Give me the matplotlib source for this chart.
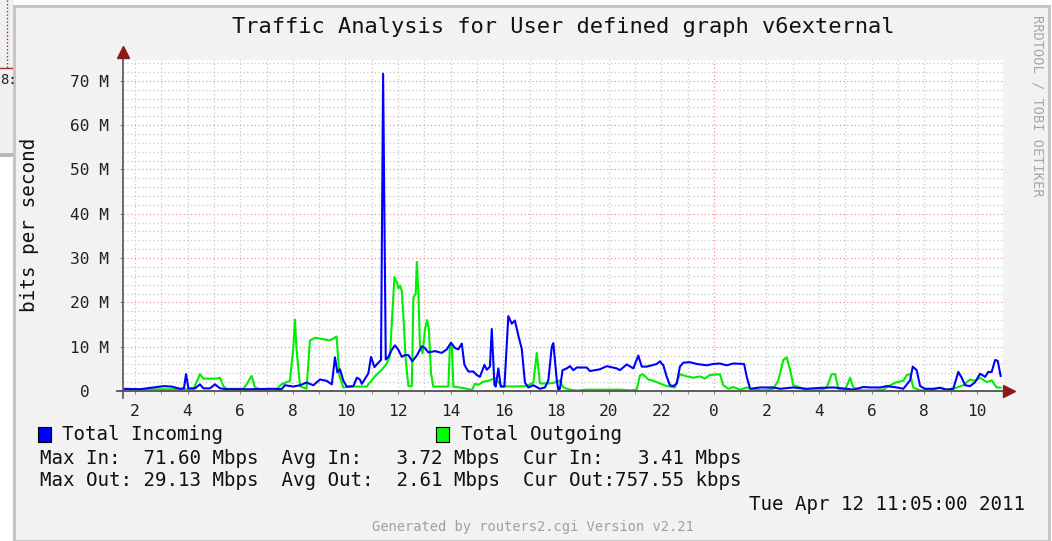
import numpy as np
import matplotlib
matplotlib.use("Agg")
import matplotlib.pyplot as plt
from matplotlib.patches import Rectangle
from matplotlib.lines import Line2D

plt.rcParams['font.family'] = ['DejaVu Sans Mono']

# hours since Apr 11 00:00, values in Mbps
in_hours = [1.56, 2.19, 3.08, 3.39, 3.71, 3.86, 3.94, 4.03, 4.28, 4.47, 4.60, 4.85, 5.04, 5.23, 5.48,
            6.37, 7.26, 7.57, 7.70, 8.02, 8.27, 8.52, 8.78, 9.03, 9.28, 9.48, 9.60, 9.69, 9.79, 9.92,
            10.05, 10.30, 10.43, 10.55, 10.62, 10.87, 10.97, 11.10, 11.22, 11.35, 11.43, 11.53, 11.63,
            11.76, 11.88, 12.01, 12.14, 12.26, 12.39, 12.54, 12.71, 12.90, 13.02, 13.15, 13.40, 13.66,
            13.85, 14.01, 14.16, 14.29, 14.42, 14.52, 14.67, 14.86, 14.99, 15.11, 15.28, 15.37, 15.49,
            15.56, 15.66, 15.71, 15.81, 15.90, 16.04, 16.19, 16.32, 16.44, 16.57, 16.70, 16.82, 16.95,
            17.14, 17.39, 17.58, 17.71, 17.84, 17.90, 18.03, 18.09, 18.15, 18.25, 18.41, 18.53, 18.66,
            18.79, 19.17, 19.29, 19.67, 19.93, 20.31, 20.43, 20.69, 20.94, 21.13, 21.26, 21.45, 21.83,
            21.95, 22.08, 22.21, 22.33, 22.46, 22.59, 22.71, 22.84, 23.09, 23.35, 23.73, 23.98, 24.23,
            24.49, 24.74, 25.15, 25.25, 25.38, 25.76, 26.26, 26.52, 27.02, 27.53, 28.04, 28.54, 29.05,
            29.30, 29.68, 29.94, 30.32, 30.57, 30.95, 31.20, 31.46, 31.56, 31.71, 31.84, 32.03, 32.34,
            32.60, 32.85, 33.10, 33.29, 33.42, 33.55, 33.74, 33.93, 34.12, 34.31, 34.43, 34.56, 34.69,
            34.79, 34.90]
in_mbps = [0.5, 0.4, 1.1, 1.0, 0.5, 0.6, 3.8, 0.6, 0.6, 1.5, 0.6, 0.6, 1.5, 0.6, 0.4,
           0.4, 0.5, 0.4, 1.3, 1.0, 1.3, 1.9, 1.3, 2.6, 2.3, 1.5, 7.6, 4.2, 4.9, 2.3,
           1.0, 1.1, 3.0, 2.6, 1.6, 4.0, 7.7, 5.4, 6.2, 7.0, 71.6, 7.1, 7.7,
           9.3, 10.3, 9.3, 7.7, 8.1, 8.1, 6.7, 8.0, 10.1, 9.7, 8.7, 9.0, 8.6,
           9.4, 10.9, 9.7, 9.4, 10.7, 5.9, 4.4, 4.4, 3.6, 3.2, 5.9, 4.8, 5.5,
           14.0, 1.4, 1.0, 5.1, 1.0, 1.0, 16.9, 15.2, 15.9, 12.5, 9.5, 1.9, 0.8,
           1.3, 0.5, 0.8, 2.4, 10.0, 10.8, 2.4, 0.3, 0.5, 4.7, 5.1, 5.6, 4.7,
           5.3, 5.3, 4.5, 4.9, 5.6, 5.1, 4.7, 6.0, 5.1, 8.0, 5.5, 5.5, 6.1,
           6.7, 5.8, 3.2, 1.3, 1.1, 1.7, 5.5, 6.4, 6.5, 6.1, 5.8, 6.1, 6.2,
           5.8, 6.2, 6.1, 3.2, 0.5, 0.8, 0.8, 0.5, 0.8, 0.5, 0.7, 0.8, 0.5,
           0.3, 0.9, 0.8, 0.8, 1.1, 0.8, 0.5, 2.4, 5.5, 4.7, 1.1, 0.5, 0.5,
           0.7, 0.3, 0.5, 4.3, 3.0, 1.3, 1.1, 2.0, 3.9, 3.2, 4.3, 4.3, 7.0,
           6.8, 3.41]

out_hours = [1.56, 4.22, 4.34, 4.47, 4.60, 5.10, 5.23, 5.36, 5.48, 6.12, 6.24, 6.43, 6.56, 6.75,
             7.38, 7.57, 7.89, 8.02, 8.08, 8.14, 8.27, 8.52, 8.65, 8.84, 9.16, 9.41, 9.66, 9.77,
             9.92, 10.30, 10.80, 11.12, 11.38, 11.57, 11.69, 11.76, 11.86, 11.95, 12.01, 12.07,
             12.14, 12.20, 12.29, 12.39, 12.52, 12.58, 12.67, 12.71, 12.77, 12.83, 12.93, 13.02,
             13.10, 13.17, 13.25, 13.34, 13.91, 13.97, 14.04, 14.10, 14.54, 14.80, 14.92, 15.05,
             15.24, 15.43, 15.68, 15.94, 16.32, 16.89, 17.14, 17.27, 17.39, 17.65, 17.90, 18.13,
             18.28, 18.53, 18.79, 19.17, 19.55, 19.93, 20.43, 20.81, 21.07, 21.19, 21.30, 21.51,
             21.70, 21.95, 22.21, 22.52, 22.71, 22.97, 23.22, 23.47, 23.66, 23.85, 24.23, 24.36,
             24.55, 24.74, 25.00, 25.25, 25.50, 25.88, 26.26, 26.45, 26.64, 26.77, 26.90, 27.02,
             27.28, 27.53, 28.04, 28.29, 28.48, 28.61, 28.73, 28.99, 29.18, 29.30, 29.56, 30.06,
             30.44, 30.70, 30.95, 31.20, 31.33, 31.46, 31.58, 31.84, 32.22, 32.60, 32.85, 33.10,
             33.48, 33.74, 33.93, 34.12, 34.37, 34.56, 34.75, 34.90]
out_mbps = [0.4, 0.4, 2.0, 3.8, 2.8, 2.8, 3.0, 1.1, 0.5, 0.5, 1.5, 3.4, 0.8, 0.4,
            0.4, 1.5, 2.3, 10.0, 16.1, 9.5, 1.1, 0.5, 11.4, 12.0, 11.7, 11.4, 12.3, 3.4,
            0.8, 1.0, 1.0, 3.3, 4.8, 6.2, 7.9, 15.4, 25.7, 24.6, 23.2, 23.8,
            22.6, 16.9, 7.0, 1.1, 1.1, 21.1, 22.0, 29.13, 22.2, 10.1, 8.5, 13.9,
            16.0, 13.9, 4.0, 1.0, 1.0, 10.5, 10.5, 1.0, 0.6, 0.2, 1.6, 1.4,
            2.1, 2.3, 2.9, 1.1, 1.0, 1.1, 1.9, 8.6, 1.7, 1.7, 1.8, 2.4,
            0.8, 0.3, 0.1, 0.3, 0.3, 0.3, 0.3, 0.15, 0.3, 3.5, 3.8, 2.6,
            2.3, 1.7, 1.1, 0.8, 3.8, 3.3, 3.0, 3.3, 2.8, 3.6, 3.8, 1.3,
            0.5, 0.9, 0.3, 0.8, 0.3, 0.15, 0.5, 2.4, 7.0, 7.6, 4.7, 1.3,
            0.8, 0.15, 0.15, 0.8, 3.8, 3.8, 0.5, 0.3, 3.0, 0.8, 0.15, 0.15,
            0.3, 1.3, 2.0, 2.3, 3.6, 3.8, 0.8, 0.15, 0.15, 0.8, 0.3, 0.5,
            1.3, 2.6, 2.3, 3.0, 2.0, 2.4, 0.8, 0.76]

x_ticks = list(range(2, 35, 2))
x_labels = [str(h % 24) for h in x_ticks]
y_ticks = [0, 10, 20, 30, 40, 50, 60, 70]
y_labels = ['0  ', '10 M', '20 M', '30 M', '40 M', '50 M', '60 M', '70 M']

stats_in = "Max In:  71.60 Mbps  Avg In:   3.72 Mbps  Cur In:   3.41 Mbps"
stats_out = "Max Out: 29.13 Mbps  Avg Out:  2.61 Mbps  Cur Out:757.55 kbps"

W, H = 1052, 541


def fx(px):
    return px / W


def fy(py):
    return 1 - py / H


fig = plt.figure(figsize=(W / 100, H / 100), dpi=100, facecolor='white')

# screenshot background bits + graph panel (kept behind the axes)
fig.add_artist(Rectangle((0, fy(155)), fx(14), 1 - fy(155), transform=fig.transFigure,
                         facecolor='#f0f0f0', edgecolor='none', zorder=-10))
fig.add_artist(Rectangle((0, fy(157)), fx(14), fy(153) - fy(157), transform=fig.transFigure,
                         facecolor='#b8b8b8', edgecolor='none', zorder=-10))
fig.add_artist(Line2D([fx(7), fx(7)], [1, fy(68)], transform=fig.transFigure, color='#a03030',
                      lw=1.0, ls=(0, (1, 1.5)), zorder=-10))
fig.add_artist(Line2D([0, fx(14)], [fy(68), fy(68)], transform=fig.transFigure, color='#a03030',
                      lw=1.0, zorder=-10))
fig.add_artist(Rectangle((fx(14), 0), fx(1049) - fx(14), fy(6), transform=fig.transFigure,
                         facecolor='#f2f2f2', edgecolor='#c6c6c6', linewidth=2.2, zorder=-9))
fig.text(0, fy(80), '8:', fontsize=10, va='center', ha='left', color='#222222')

ax = fig.add_axes([fx(123), fy(391), fx(1003) - fx(123), fy(60) - fy(391)])
ax.set_facecolor('white')
ax.set_xlim(1.544, 34.99)
ax.set_ylim(0, 74.7)
for s in ax.spines.values():
    s.set_visible(False)

# grid
for v in np.arange(2, 75, 2):
    if v % 10 == 0:
        ax.axhline(v, color='#f09090', lw=0.9, ls=(0, (1, 2)), zorder=1)
    else:
        ax.axhline(v, color='#c8c8c8', lw=0.9, ls=(0, (1, 2)), zorder=1)
for h in range(2, 35):
    if h == 24:
        ax.axvline(h, color='#f09090', lw=0.9, ls=(0, (1, 2)), zorder=1)
    else:
        ax.axvline(h, color='#c8c8c8', lw=0.9, ls=(0, (1, 2)), zorder=1)

ax.plot(out_hours, out_mbps, color='#00ee00', lw=1.5, zorder=3)
ax.plot(in_hours, in_mbps, color='#0000ff', lw=1.5, zorder=4)

# axes with arrows
ax.plot([0, 0], [-0.02, 1.02], transform=ax.transAxes, color='#606060', lw=1.3, clip_on=False, zorder=5)
ax.plot([-0.007, 1.004], [0, 0], transform=ax.transAxes, color='#505050', lw=1.3, clip_on=False, zorder=5)
ax.plot([0], [1.025], transform=ax.transAxes, marker='^', ms=8, color='#8b1a1a', clip_on=False, zorder=6)
ax.plot([1.007], [0], transform=ax.transAxes, marker='>', ms=8, color='#8b1a1a', clip_on=False, zorder=6)

ax.set_xticks(x_ticks)
ax.set_xticklabels(x_labels)
ax.set_xticks(range(2, 35), minor=True)
ax.set_yticks(y_ticks)
ax.set_yticklabels(y_labels)
ax.tick_params(axis='both', which='both', length=2, color='#808080', labelsize=11.7,
               labelcolor='#222222')
ax.tick_params(axis='x', pad=7)
ax.tick_params(axis='y', pad=8)

fig.text(fx(30), fy(225), 'bits per second', rotation=90, ha='center', va='center',
         fontsize=13.9, color='#111111')
fig.text(fx(563), fy(27), 'Traffic Analysis for User defined graph v6external',
         ha='center', va='center', fontsize=15.8, color='#111111')

# legend
fig.add_artist(Rectangle((fx(38), fy(442)), fx(13), fy(427) - fy(442), transform=fig.transFigure,
                         facecolor='#0000ff', edgecolor='black', linewidth=0.8))
fig.add_artist(Rectangle((fx(436), fy(442)), fx(13), fy(427) - fy(442), transform=fig.transFigure,
                         facecolor='#00ff00', edgecolor='black', linewidth=0.8))
fig.text(fx(62), fy(435), 'Total Incoming', ha='left', va='center', fontsize=13.8, color='#111111')
fig.text(fx(461), fy(435), 'Total Outgoing', ha='left', va='center', fontsize=13.8, color='#111111')
fig.text(fx(40), fy(458), stats_in, ha='left', va='center', fontsize=13.8, color='#111111')
fig.text(fx(40), fy(481), stats_out, ha='left', va='center', fontsize=13.8, color='#111111')
fig.text(fx(1025), fy(504), 'Tue Apr 12 11:05:00 2011', ha='right', va='center', fontsize=13.8,
         color='#111111')
fig.text(fx(533), fy(527), 'Generated by routers2.cgi Version v2.21', ha='center', va='center',
         fontsize=9.9, color='#a0a0a0')
fig.text(fx(1037), fy(106), 'RRDTOOL / TOBI OETIKER', rotation=-90, ha='center', va='center',
         fontsize=9.9, color='#a8a8a8')

fig.savefig('out.png', dpi=100, facecolor=fig.get_facecolor())
